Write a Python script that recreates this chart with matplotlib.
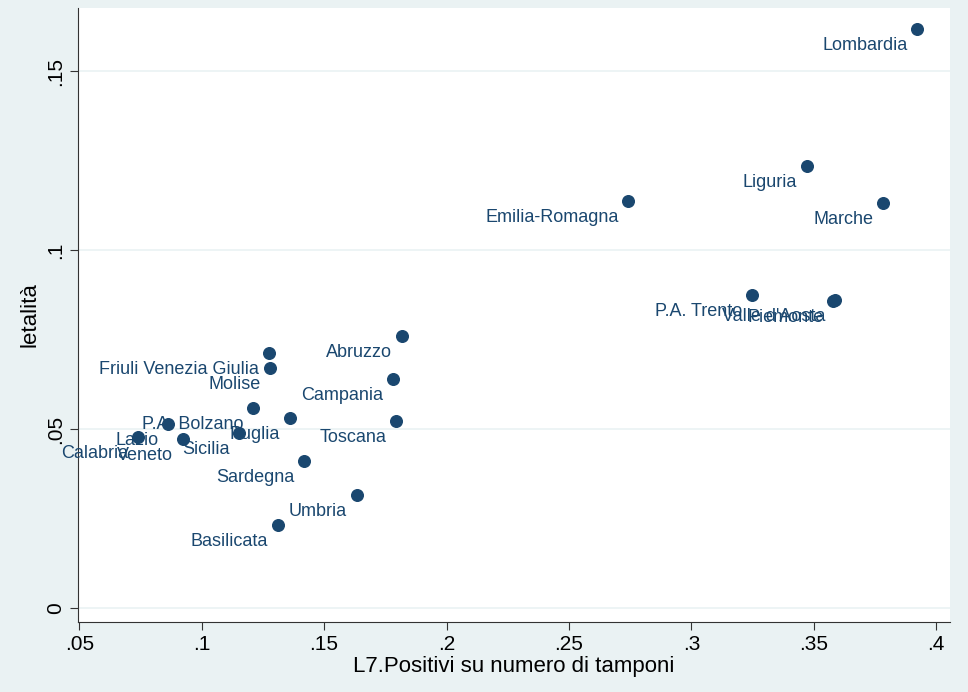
import matplotlib.pyplot as plt

plt.rcParams['font.family'] = ['Liberation Sans', 'DejaVu Sans']

regions = ['Lombardia', 'Liguria', 'Emilia-Romagna', 'Marche', 'P.A. Trento', 'Piemonte', "Valle d'Aosta",
           'Abruzzo', 'Friuli Venezia Giulia', 'Molise', 'Campania', 'P.A. Bolzano', 'Puglia', 'Toscana',
           'Lazio', 'Sicilia', 'Calabria', 'Veneto', 'Sardegna', 'Umbria', 'Basilicata']
positivi = [.3922, .3472, .2742, .3783, .3249, .3579, .3587,
            .1817, .1275, .1279, .1781, .1210, .1361, .1793,
            .0863, .1153, .0741, .0924, .1418, .1634, .1312]
letalita = [.1617, .1235, .1137, .1131, .0874, .0857, .0860,
            .0760, .0712, .0670, .0640, .0559, .0531, .0522,
            .0514, .0489, .0477, .0472, .0411, .0316, .0232]

navy = '#1a476f'
fig = plt.figure(figsize=(9.68, 6.92), dpi=100, facecolor='#eaf2f3')
ax = fig.add_axes([78/968, 70/692, 872/968, 614/692])
ax.set_facecolor('white')

ax.scatter(positivi, letalita, s=70, color=navy, zorder=3)
for name, x, y in zip(regions, positivi, letalita):
    ax.annotate(name, (x, y), xytext=(-7, -12), textcoords='offset points',
                ha='right', va='center', fontsize=13, color=navy)

ax.set_xlim(0.0495, 0.4056)
ax.set_ylim(-0.0039, 0.1676)
ax.set_xticks([.05, .1, .15, .2, .25, .3, .35, .4])
ax.set_xticklabels(['.05', '.1', '.15', '.2', '.25', '.3', '.35', '.4'], fontsize=15)
ax.set_yticks([0, .05, .1, .15])
ax.set_yticklabels(['0', '.05', '.1', '.15'], fontsize=15, rotation=90, va='center')
ax.grid(axis='y', color='#eaf2f3', lw=1.2)
ax.set_axisbelow(True)
for s in ['top', 'right']:
    ax.spines[s].set_visible(False)
for s in ['left', 'bottom']:
    ax.spines[s].set_color('#333333')
ax.tick_params(length=6, color='#333333')
ax.set_xlabel('L7.Positivi su numero di tamponi', fontsize=16, labelpad=1)
ax.set_ylabel('letalità', fontsize=16)

fig.savefig('out.png', facecolor=fig.get_facecolor())
